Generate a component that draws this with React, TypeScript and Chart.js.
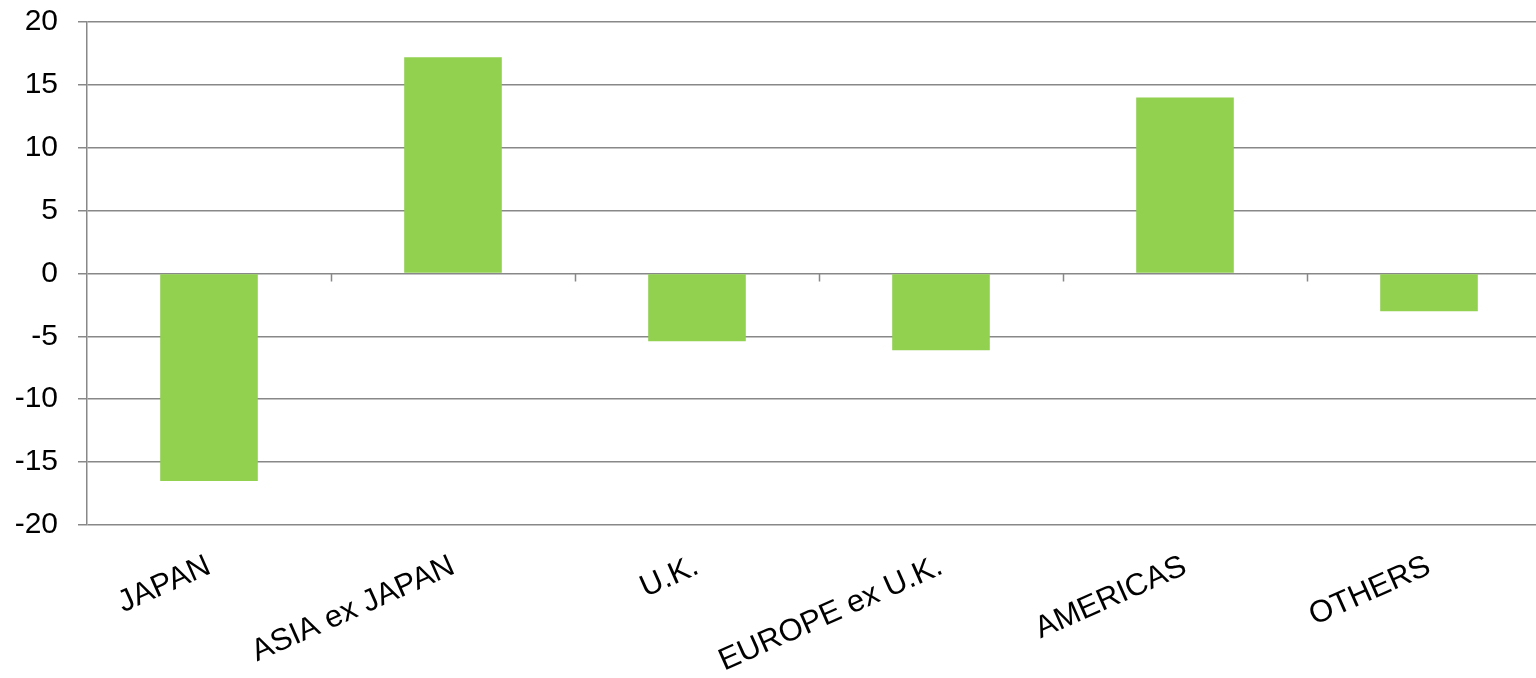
import React, { useEffect, useRef } from "react";
import { Chart, registerables } from "chart.js";

Chart.register(...registerables);

const categories = ["JAPAN", "ASIA ex JAPAN", "U.K.", "EUROPE ex U.K.", "AMERICAS", "OTHERS"];
const values = [-16.5, 17.2, -5.4, -6.1, 14.0, -3.0];
const yMin = -20;
const yMax = 20;
const yStep = 5;

const zeroTicks = {
  id: "zeroTicks",
  afterDatasetsDraw(chart: any) {
    const xs = chart.scales.x;
    const ys = chart.scales.y;
    const ctx = chart.ctx;
    const y0 = ys.getPixelForValue(0);
    const w = xs.getPixelForValue(1) - xs.getPixelForValue(0);
    ctx.save();
    ctx.strokeStyle = "#888888";
    ctx.lineWidth = 1.5;
    ctx.beginPath();
    for (let i = 1; i < categories.length; i++) {
      const x = Math.round(xs.getPixelForValue(i) - w / 2) + 0.5;
      ctx.moveTo(x, y0);
      ctx.lineTo(x, y0 + 8);
    }
    ctx.stroke();
    ctx.restore();
  },
};

export default function App() {
  const ref = useRef<HTMLCanvasElement>(null);
  useEffect(() => {
    if (!ref.current) return;
    const chart = new Chart(ref.current, {
      type: "bar",
      data: {
        labels: categories,
        datasets: [
          {
            data: values,
            backgroundColor: "#92D050",
            barPercentage: 0.4,
            categoryPercentage: 1,
          },
        ],
      },
      options: {
        animation: false,
        responsive: true,
        maintainAspectRatio: false,
        layout: { padding: { left: 15, right: 0, top: -13, bottom: -17 } },
        plugins: { legend: { display: false }, tooltip: { enabled: false } },
        scales: {
          x: {
            grid: { display: false },
            border: { display: false },
            ticks: {
              color: "#000",
              font: { family: "'Liberation Sans', Arial, sans-serif", size: 31 },
              minRotation: 24,
              maxRotation: 24,
              padding: 15,
              autoSkip: false,
            },
          },
          y: {
            min: yMin,
            max: yMax,
            grid: { color: "#888888", lineWidth: 1.5, tickLength: 9 },
            border: { display: true, color: "#888888", width: 1.5 },
            ticks: {
              stepSize: yStep,
              color: "#000",
              padding: 20,
              font: { family: "'Liberation Sans', Arial, sans-serif", size: 30 },
            },
            afterFit: (scale: any) => {
              scale.width = 72;
            },
          },
        },
      },
      plugins: [zeroTicks],
    });
    return () => chart.destroy();
  }, []);
  return (
    <div style={{ position: "absolute", left: 0, top: 0, width: 1536, height: 678, overflow: "hidden", background: "#fff" }}>
      <div style={{ position: "absolute", left: 0, top: -16, width: 1551, height: 694 }}>
        <canvas ref={ref} />
      </div>
    </div>
  );
}
